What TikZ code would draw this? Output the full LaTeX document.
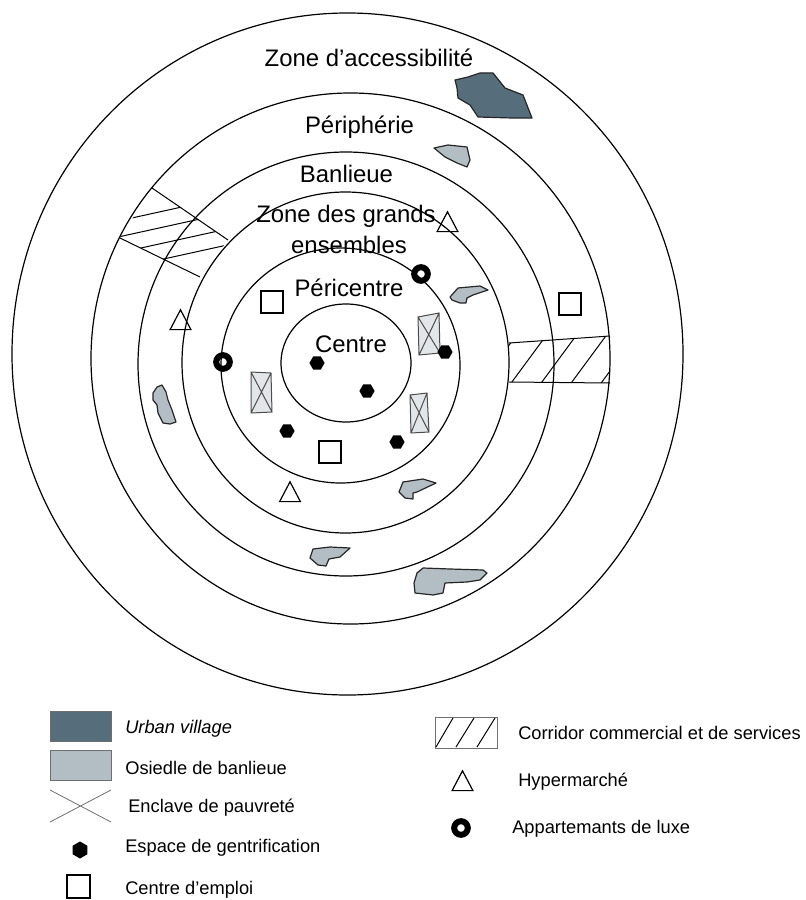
\documentclass[tikz,border=0pt]{standalone}
\usepackage{fontspec}
\setmainfont{Liberation Sans}
\usetikzlibrary{shapes.geometric}
\definecolor{villagec}{HTML}{566E7B}
\definecolor{osiedlec}{HTML}{B3BDC4}
\definecolor{enclavec}{HTML}{E2E6E8}
\definecolor{legendc}{HTML}{6E6E6E}

\begin{document}
\begin{tikzpicture}[x=0.025cm, y=-0.025cm]
        \useasboundingbox (0,0) rectangle (805,900);
        %
        \tikzset{zonering/.style={line width=0.3mm},
                 zonelabel/.style={anchor=base, inner sep=0, font=\fontsize{17}{21}\selectfont},
                 legtext/.style={anchor=base west, inner sep=0, font=\fontsize{13}{15}\selectfont},
                 patch/.style={draw=black!85, line width=0.3mm, line join=round},
                 enclave/.style={draw=black!70, fill=enclavec, line width=0.25mm},
                 gentri/.style={regular polygon, regular polygon sides=6, fill=black, inner sep=0, minimum size=3.8mm},
                 emploi/.style={draw, line width=0.5mm, inner sep=0, minimum size=5.3mm},
                 hyper/.style={regular polygon, regular polygon sides=3, draw, line width=0.3mm, inner sep=0, minimum size=6mm, yscale=1.1},
                 luxe/.style={circle, draw, line width=1.5mm, inner sep=0, minimum size=3.4mm},
                 hatch/.style={line width=0.25mm}}
        %
        \draw[zonering] (347.5,354) ellipse [x radius=335.5, y radius=341];
        \draw[zonering] (350.5,358.5) ellipse [x radius=259.5, y radius=265.5];
        \draw[zonering] (346,364) ellipse [x radius=208, y radius=212];
        \draw[zonering] (345.5,362.5) ellipse [x radius=163.5, y radius=170.5];
        \draw[zonering] (340.5,365.5) ellipse [x radius=119.5, y radius=117.5];
        \draw[zonering] (346,363) ellipse [x radius=65, y radius=59];
        %
        \draw (369,67) node[zonelabel](access){Zone d’accessibilité};
        \draw (359.5,133) node[zonelabel](periph){Périphérie};
        \draw (346.5,182) node[zonelabel](banl){Banlieue};
        \draw (346,222) node[zonelabel](grands){Zone des grands};
        \draw (349,253) node[zonelabel](ensemb){ensembles};
        \draw (349,296) node[zonelabel](peric){Péricentre};
        \draw (351,352) node[zonelabel](centre){Centre};
        %
        % corridors
        \draw[hatch] (152,188) -- (228,240) (120,238) -- (200,277);
        \begin{scope}
        \clip (152,188) -- (228,240) -- (200,277) -- (120,238) -- cycle;
        \foreach \c in {247,263,279,295}
                \draw[hatch] (100,\c-22) -- (240,\c-52.8);
        \end{scope}
        \draw[hatch] (509,343) -- (610,336) (509,382) -- (610,383);
        \begin{scope}
        \clip (509,343) -- (610,336) -- (610,383) -- (509,382) -- cycle;
        \foreach \x in {482,512,...,632}
                \draw[hatch] (\x-6,390) -- (\x+40,327.6);
        \end{scope}
        %
        % urban village and osiedle
        \draw[patch, fill=villagec] (455,80) -- (468,77) -- (480,73) -- (493,73) -- (505,88) -- (523,95) -- (532,118) -- (512,118) -- (478,117) -- (470,105) -- (458,98) -- (457,88) -- cycle;
        \draw[patch, fill=osiedlec] (434,148) -- (448,145) -- (467,147) -- (470,160) -- (467,167) -- (457,163) -- (445,157) -- cycle;
        \draw[patch, fill=osiedlec] (450,297) -- (458,288) -- (480,286) -- (488,290) -- (473,295) -- (467,298) -- (466,303) -- (460,303) -- (452,300) -- cycle;
        \draw[patch, fill=osiedlec] (153,393) -- (157,387) -- (162,385) -- (166,392) -- (168,400) -- (172,410) -- (176,422) -- (170,424) -- (163,423) -- (158,413) -- (157,405) -- (153,400) -- cycle;
        \draw[patch, fill=osiedlec] (403,482) -- (423,479) -- (436,483) -- (417,492) -- (413,493) -- (413,499) -- (405,498) -- (399,492) -- cycle;
        \draw[patch, fill=osiedlec] (313,549) -- (330,547) -- (350,548) -- (340,557) -- (329,559) -- (326,566) -- (318,565) -- (310,558) -- cycle;
        \draw[patch, fill=osiedlec] (423,568) -- (450,569) -- (483,570) -- (487,573) -- (480,580) -- (467,582) -- (445,583) -- (443,593) -- (433,595) -- (415,593) -- (414,583) -- (417,573) -- cycle;
        %
        % enclaves
        \draw[enclave] (418,317) -- (439,313) -- (440,353) -- (419,355) -- cycle (418,317) -- (440,353) (439,313) -- (419,355);
        \draw[enclave] (251,372) -- (271,373) -- (272,412) -- (251,413) -- cycle (251,372) -- (272,412) (271,373) -- (251,413);
        \draw[enclave] (410,395) -- (427,393) -- (429,432) -- (411,433) -- cycle (410,395) -- (429,432) (427,393) -- (411,433);
        %
        \draw (317,363) node[gentri](g1){};
        \draw (367,391) node[gentri](g2){};
        \draw (445,352) node[gentri](g3){};
        \draw (287,431) node[gentri](g4){};
        \draw (397,442) node[gentri](g5){};
        %
        \draw (272,302) node[emploi](e1){};
        \draw (330,452) node[emploi](e2){};
        \draw (570,304) node[emploi](e3){};
        %
        \draw (447.5,225) node[hyper](h1){};
        \draw (180.5,323) node[hyper](h2){};
        \draw (290,495) node[hyper](h3){};
        %
        \draw (223,362) node[luxe](l1){};
        \draw (421,274) node[luxe](l2){};
        %
        % legend
        \draw (80.5,726) node[draw=legendc, fill=villagec, minimum width=15.25mm, minimum height=7.5mm](kvillage){};
        \draw (80.5,765) node[draw=legendc, fill=osiedlec, minimum width=15.25mm, minimum height=7.5mm](kosiedle){};
        \draw[legendc, line width=0.2mm] (50,790) -- (111,822) (50,822) -- (111,790);
        \draw (80,850) node[gentri, rotate=90, minimum size=4.25mm](kgentri){};
        \draw (78.5,886.5) node[emploi, minimum size=5.8mm](kemploi){};
        \draw[legendc, line width=0.25mm] (435,717) rectangle (497,748);
        \draw[hatch] (436,747) -- (453,718) (456,747) -- (474,718) (477,747) -- (495,718);
        \draw (462.5,784) node[hyper](khyper){};
        \draw (461,828) node[luxe](kluxe){};
        %
        \draw (125,733.5) node[legtext](tvillage){\itshape Urban village};
        \draw (125,774) node[legtext](tosiedle){Osiedle de banlieue};
        \draw (128,812) node[legtext](tenclave){Enclave de pauvreté};
        \draw (125,852.5) node[legtext](tgentri){Espace de gentrification};
        \draw (125,894) node[legtext](temploi){Centre d’emploi};
        \draw (518,739.5) node[legtext](tcorridor){Corridor commercial et de services};
        \draw (518,786.5) node[legtext](thyper){Hypermarché};
        \draw (512,833) node[legtext](tluxe){Appartemants de luxe};
    \end{tikzpicture}
\end{document}
